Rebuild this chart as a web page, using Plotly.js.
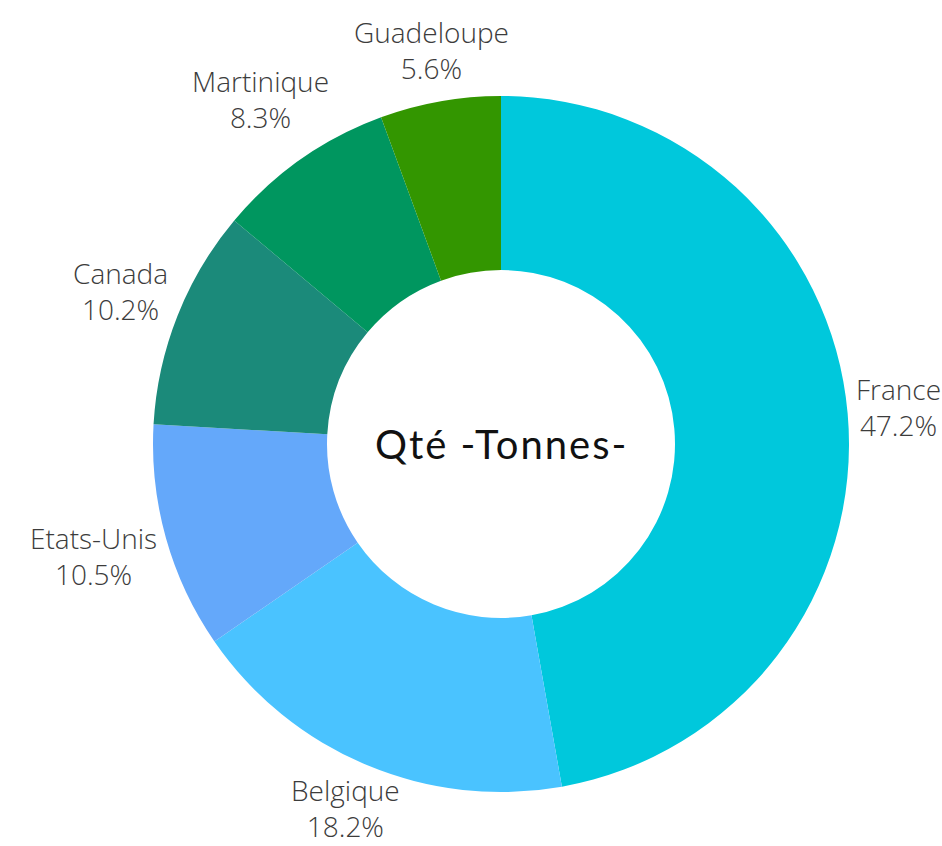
<!DOCTYPE html>
<html>
<head>
<meta charset="utf-8">
<script src="https://cdn.plot.ly/plotly-3.0.1.min.js"></script>
<style>
html,body{margin:0;padding:0;background:#fff;}
</style>
</head>
<body>
<div id="chart" style="width:942px;height:846px;"></div>
<script>
const countries = ["France", "Belgique", "Etats-Unis", "Canada", "Martinique", "Guadeloupe"];
const shares = [47.2, 18.2, 10.5, 10.2, 8.3, 5.6];
const colors = ["#00C8DC", "#4AC3FF", "#64A8FA", "#1B8A7A", "#00965F", "#339600"];
const centerTitle = "Qté -Tonnes-";

const W = 942, H = 846;
const M = {l: 60, r: 0, t: 96, b: 54};
const labelFont = {family: "Open Sans", size: 28, color: "#3c3c3c", weight: 300};

// geometry of the pie as Plotly lays it out (domain = full plot area)
const plotW = W - M.l - M.r, plotH = H - M.t - M.b;
const cx = M.l + plotW / 2, cy = M.t + plotH / 2, R = Math.min(plotW, plotH) / 2;

const ctx = document.createElement("canvas").getContext("2d");
ctx.font = "300 " + labelFont.size + "px 'Open Sans'";
const total = shares.reduce((a, b) => a + b, 0);
const blockHalf = labelFont.size * 1.3; // two lines of text, half height

const annotations = [];
let cum = 0;
shares.forEach((v, i) => {
  const frac = v / total;
  const theta = (cum + frac / 2) * 2 * Math.PI; // clockwise from top
  cum += frac;
  const pct = (frac * 100).toFixed(1) + "%";
  const hw = Math.max(ctx.measureText(countries[i]).width, ctx.measureText(pct).width) / 2;
  const hh = 31;
  const s = Math.sin(theta), c = Math.cos(theta);
  const d = R + 6 + hw * Math.abs(s) + hh * Math.abs(c);
  const px = cx + d * s;
  let py = cy - d * c - 2;
  py = Math.min(py, H - blockHalf - 2); // keep the label inside the page
  annotations.push({
    text: countries[i] + "<br>" + pct, showarrow: false,
    xref: "paper", yref: "paper",
    x: (px - M.l) / plotW, y: (H - M.b - py) / plotH,
    xanchor: "center", yanchor: "middle",
    align: "center",
    font: labelFont
  });
});

annotations.push({
  text: centerTitle,
  showarrow: false,
  x: 0.5, y: 0.5, xref: "paper", yref: "paper",
  xanchor: "center", yanchor: "middle",
  font: {family: "Lato", size: 40, color: "#111", weight: 400}
});

const data = [{
  type: "pie",
  labels: countries,
  values: shares,
  hole: 0.5,
  sort: false,
  direction: "clockwise",
  rotation: 0,
  marker: {colors: colors, line: {width: 0}},
  textinfo: "none",
  hoverinfo: "label+percent",
  showlegend: false
}];

const layout = {
  width: W,
  height: H,
  margin: M,
  paper_bgcolor: "#fff",
  annotations: annotations
};

Plotly.newPlot("chart", data, layout, {displayModeBar: false}).then(() => {
  document.querySelectorAll(".annotation-text").forEach(t => {
    if (t.textContent === centerTitle) t.style.letterSpacing = "2px";
  });
});
</script>
</body>
</html>
